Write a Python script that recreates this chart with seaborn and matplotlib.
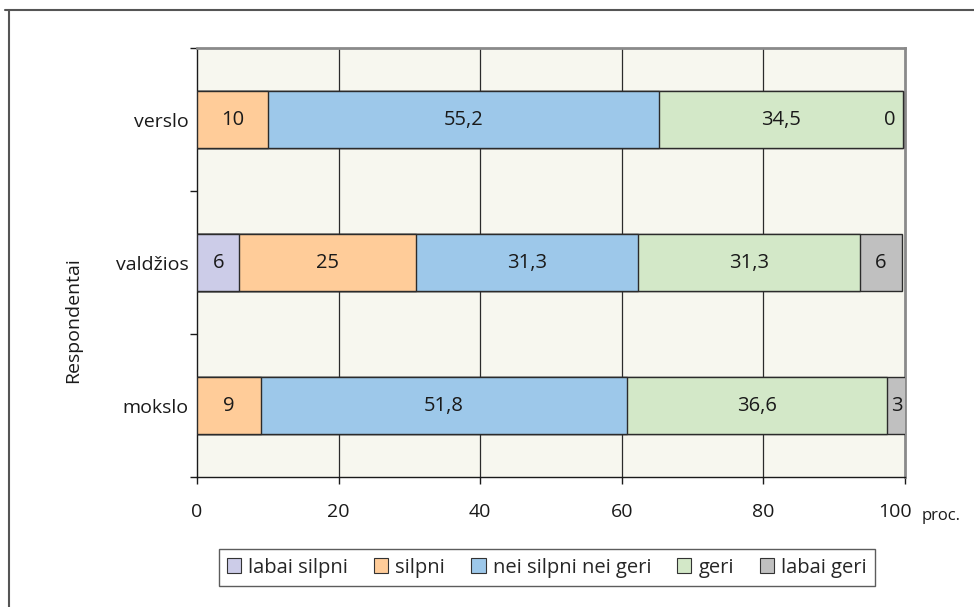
import numpy as np
import pandas as pd
import matplotlib
matplotlib.use("Agg")
import matplotlib.pyplot as plt
import matplotlib.transforms as mtransforms
from matplotlib.patches import Patch
from matplotlib.lines import Line2D
import seaborn as sns

# Respondent groups and rating shares (percent); NaN = no answer group shown
groups = ["verslo", "valdžios", "mokslo"]
ratings = ["labai silpni", "silpni", "nei silpni nei geri", "geri", "labai geri"]
labai_silpni = [np.nan, 6, np.nan]
silpni = [10, 25, 9]
nei = [55.2, 31.3, 51.8]
geri = [34.5, 31.3, 36.6]
labai_geri = [0, 6, 3]
colors = ["#CCCCE8", "#FFCC99", "#9DC8EA", "#D3E8C8", "#C0C0C0"]
x_ticks = [0, 20, 40, 60, 80, 100]

sns.set_theme(style="white")
plt.rcParams["font.family"] = ["Open Sans", "DejaVu Sans"]

series = [labai_silpni, silpni, nei, geri, labai_geri]
df = pd.DataFrame(dict(zip(ratings, series)), index=groups)
cum = df.fillna(0).cumsum(axis=1)
starts = cum - df.fillna(0)

fig = plt.figure(figsize=(9.74, 6.07), dpi=100)
ax = fig.add_axes([197 / 974, 1 - 477 / 607, 708 / 974, 429 / 607])
ax.set_facecolor("#F7F7EF")

# stacked bars: draw cumulative totals from the last segment backwards
for i in range(len(ratings) - 1, -1, -1):
    r = ratings[i]
    vals = cum[r].where(df[r].notna())
    d = pd.DataFrame({"grupe": groups, "v": vals.values})
    sns.barplot(data=d, x="v", y="grupe", order=groups, orient="h",
                color=colors[i], saturation=1, width=0.4,
                edgecolor="#2b2b2b", linewidth=1, ax=ax, zorder=3)

# value labels
for gi, g in enumerate(groups):
    for r in ratings:
        v = df.loc[g, r]
        if pd.isna(v):
            continue
        txt = f"{v:g}".replace(".", ",")
        if v == 0:
            ax.text(cum.loc[g, r] - 1.0, gi, txt, ha="right", va="center",
                    fontsize=14.5, color="#1a1a1a", zorder=5)
        else:
            ax.text(starts.loc[g, r] + v / 2, gi, txt, ha="center", va="center",
                    fontsize=14.5, color="#1a1a1a", zorder=5)

ax.set_xlim(0, 100)
ax.set_ylim(2.5, -0.5)
ax.set_xticks(x_ticks)
ax.set_xticklabels([str(t) for t in x_ticks], fontsize=14, color="#1a1a1a")
ax.set_yticks([0, 1, 2])
ax.set_yticklabels(groups, fontsize=14, color="#1a1a1a")
ax.set_yticks([-0.5, 0.5, 1.5, 2.5], minor=True)
ax.tick_params(axis="y", which="major", length=0, pad=6)
ax.tick_params(axis="y", which="minor", length=5, width=1, color="#1a1a1a", left=True)
ax.tick_params(axis="x", which="major", length=5, width=1, color="#1a1a1a",
               bottom=True, pad=14)
# last tick label sits a little left of its tick
last = ax.get_xticklabels()[-1]
last.set_transform(last.get_transform() +
                   mtransforms.ScaledTranslation(-10 / 100, 0, fig.dpi_scale_trans))
ax.set_xlabel("")
ax.set_ylabel("")
for xv in x_ticks[1:-1]:
    ax.axvline(xv, color="#2b2b2b", lw=0.9, zorder=1)

for s in ["left", "bottom"]:
    ax.spines[s].set_color("#1a1a1a")
    ax.spines[s].set_linewidth(1)
for s in ["top", "right"]:
    ax.spines[s].set_color("#8a8a8a")
    ax.spines[s].set_linewidth(2)

fig.text(73 / 974, 1 - 320 / 607, "Respondentai", rotation=90, ha="center",
         va="center", fontsize=14, color="#1a1a1a")
fig.text(941 / 974, 1 - 516 / 607, "proc.", ha="center", va="center",
         fontsize=12, color="#1a1a1a")

handles = [Patch(facecolor=c, edgecolor="#333333", linewidth=0.8) for c in colors]
leg = fig.legend(handles, ratings, loc="center", bbox_to_anchor=(547 / 974, 1 - 567.5 / 607),
                 ncol=5, fontsize=14.5, frameon=True, fancybox=False,
                 handlelength=0.7, handleheight=0.7, handletextpad=0.35,
                 columnspacing=1.3, borderpad=0.4)
leg.get_frame().set_edgecolor("#333333")
leg.get_frame().set_linewidth(1)

# outer frame lines
fig.add_artist(Line2D([5 / 974, 1], [1 - 9.5 / 607] * 2, color="#555555", lw=1.5))
fig.add_artist(Line2D([8.5 / 974] * 2, [0, 1 - 9.5 / 607], color="#555555", lw=1.5))

fig.savefig("out.png", dpi=100)
